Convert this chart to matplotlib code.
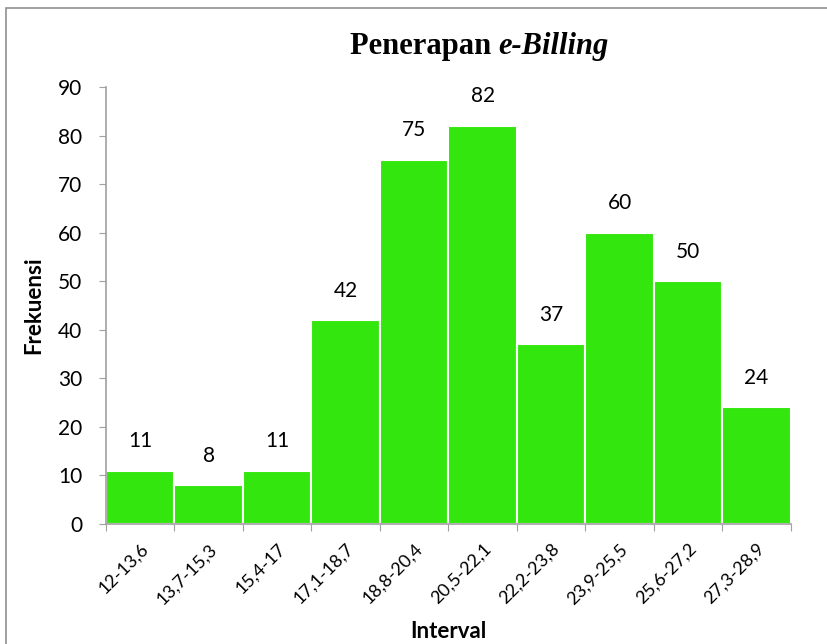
import matplotlib.pyplot as plt
from matplotlib.patches import Rectangle

intervals = ['12-13,6', '13,7-15,3', '15,4-17', '17,1-18,7', '18,8-20,4',
             '20,5-22,1', '22,2-23,8', '23,9-25,5', '25,6-27,2', '27,3-28,9']
frekuensi = [11, 8, 11, 42, 75, 82, 37, 60, 50, 24]

plt.rcParams['font.family'] = ['Lato', 'DejaVu Sans']

fig = plt.figure(figsize=(8.28, 6.44), dpi=100)
ax = fig.add_axes([0.128, 0.1863, 0.827, 0.6787])

pos = list(range(len(intervals)))
ax.bar(pos, frekuensi, width=1.0, color='#33e60d', edgecolor='white', linewidth=1.5)
for x, v in zip(pos, frekuensi):
    ax.text(x, v + 4, str(v), ha='center', va='bottom', fontsize=15)

ax.set_xlim(-0.5, len(intervals) - 0.5)
ax.set_ylim(0, 90)
ax.set_yticks(range(0, 91, 10))
ax.tick_params(axis='y', labelsize=15, length=5, color='#a0a0a0', direction='out', pad=12)

ax.set_xticks([p - 0.5 for p in range(len(intervals) + 1)])
ax.set_xticklabels([])
ax.tick_params(axis='x', which='major', length=5, color='#a0a0a0')
ax.set_xticks(pos, minor=True)
ax.set_xticklabels(intervals, minor=True, rotation=45, ha='right', rotation_mode='anchor', fontsize=13)
ax.tick_params(axis='x', which='minor', length=0, pad=12)

for s in ['top', 'right']:
    ax.spines[s].set_visible(False)
for s in ['left', 'bottom']:
    ax.spines[s].set_color('#a0a0a0')
    ax.spines[s].set_linewidth(1.2)

ax.set_ylabel('Frekuensi', fontsize=16, fontweight='bold', labelpad=10)
ax.set_xlabel('Interval', fontsize=16, fontweight='bold', labelpad=10)

fig.text(0.602, 0.928, 'Penerapan ', ha='right', va='center', fontsize=22,
         fontweight='bold', family='Liberation Serif')
fig.text(0.602, 0.928, 'e-Billing', ha='left', va='center', fontsize=22,
         fontweight='bold', style='italic', family='Liberation Serif')

fig.patches.append(Rectangle((6 / 828, -0.1), 1.2, 1.1 - 8 / 644, transform=fig.transFigure,
                             fill=False, edgecolor='#909090', linewidth=1.2))

fig.savefig('out.png', dpi=100)
